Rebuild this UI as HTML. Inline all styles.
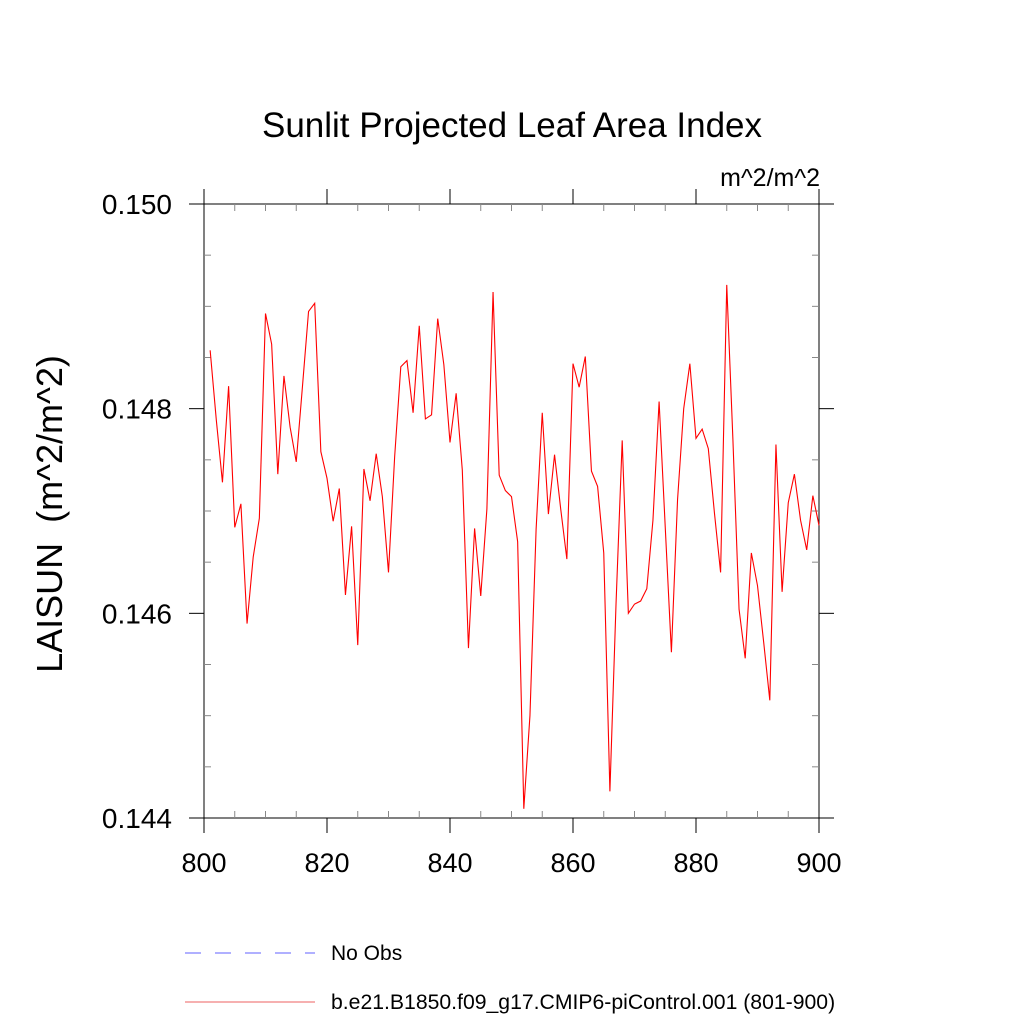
<!DOCTYPE html>
<html><head><meta charset="utf-8"><style>
body{margin:0;background:#fff}
svg{display:block;font-family:"Liberation Sans",Arial,sans-serif}
</style></head><body>
<svg id="chart" width="1024" height="1024" viewBox="0 0 1024 1024" xmlns="http://www.w3.org/2000/svg">
<rect width="1024" height="1024" fill="#fff"/>
<text x="512" y="137" text-anchor="middle" font-size="35">Sunlit Projected Leaf Area Index</text>
<text x="820" y="186" text-anchor="end" font-size="25">m^2/m^2</text>
<text transform="translate(62,514) rotate(-90)" text-anchor="middle" font-size="36" style="white-space:pre" xml:space="preserve">LAISUN  (m^2/m^2)</text>
<g id="axes"></g>
<g id="series"></g>
<g>
<line x1="185" y1="953" x2="315" y2="953" stroke="#8080ff" stroke-width="1.2" stroke-dasharray="16,14"/>
<text x="331" y="960" font-size="21">No Obs</text>
<line x1="185" y1="1002" x2="315" y2="1002" stroke="#f08080" stroke-width="1.2"/>
<text x="331" y="1009" font-size="21.2">b.e21.B1850.f09_g17.CMIP6-piControl.001 (801-900)</text>
</g>
</svg>
<script>
const years = [];
for (let y = 801; y <= 900; y++) years.push(y);
const laisun = [
0.14857,0.14789,0.14728,0.14822,0.14684,0.14707,0.14590,0.14655,0.14693,0.14893,
0.14863,0.14736,0.14832,0.14782,0.14748,0.14821,0.14895,0.14903,0.14758,0.14732,
0.14690,0.14722,0.14618,0.14685,0.14569,0.14741,0.14710,0.14756,0.14714,0.14640,
0.14753,0.14841,0.14847,0.14796,0.14881,0.14790,0.14794,0.14888,0.14843,0.14767,
0.14815,0.14740,0.14566,0.14683,0.14617,0.14702,0.14914,0.14735,0.14720,0.14714,
0.14670,0.14409,0.14500,0.14682,0.14796,0.14697,0.14755,0.14702,0.14653,0.14844,
0.14821,0.14851,0.14739,0.14724,0.14659,0.14426,0.14610,0.14769,0.14600,0.14609,
0.14612,0.14624,0.14691,0.14807,0.14684,0.14562,0.14711,0.14800,0.14844,0.14771,
0.14780,0.14761,0.14698,0.14640,0.14921,0.14770,0.14604,0.14556,0.14659,0.14627,
0.14572,0.14515,0.14765,0.14621,0.14708,0.14736,0.14691,0.14662,0.14715,0.14686
];
const xTicks = [800, 820, 840, 860, 880, 900];
const yTicks = [0.144, 0.146, 0.148, 0.150];
const yTickLabels = ["0.144", "0.146", "0.148", "0.150"];
const xMin = 800, xMax = 900, yMin = 0.144, yMax = 0.150;
const L = 204, R = 819, T = 204, B = 818;
const NS = "http://www.w3.org/2000/svg";
function sx(v){ return L + (v - xMin) / (xMax - xMin) * (R - L); }
function sy(v){ return B - (v - yMin) / (yMax - yMin) * (B - T); }
function mk(tag, attrs, parent){
  const e = document.createElementNS(NS, tag);
  for (const k in attrs) e.setAttribute(k, attrs[k]);
  parent.appendChild(e);
  return e;
}
const axes = document.getElementById('axes');
const frame = mk('rect', {x:L, y:T, width:R-L, height:B-T, fill:'none', stroke:'#000', 'stroke-width':1}, axes);


for (let i = 0; i < xTicks.length; i++) {
  const x = sx(xTicks[i]);
  const t1 = mk('line', {x1:x, y1:B, x2:x, y2:B+15, stroke:'#000'}, axes);
  
  
  const t2 = mk('line', {x1:x, y1:T, x2:x, y2:T-15, stroke:'#000'}, axes);
  
  
  const lb = mk('text', {x:x, y:B+54, 'text-anchor':'middle', 'font-size':27}, axes);
  lb.textContent = String(xTicks[i]);
  
  
}
for (let v = xMin + 5; v < xMax; v += 5) {
  if (v % 20 === 0) continue;
  const x = sx(v);
  const m1 = mk('line', {x1:x, y1:B, x2:x, y2:B-7, stroke:'#888'}, axes);
  
  
  const m2 = mk('line', {x1:x, y1:T, x2:x, y2:T+7, stroke:'#888'}, axes);
  
  
}
for (let i = 0; i < yTicks.length; i++) {
  const y = sy(yTicks[i]);
  const t1 = mk('line', {x1:L-15, y1:y, x2:L, y2:y, stroke:'#000'}, axes);
  
  
  const t2 = mk('line', {x1:R, y1:y, x2:R+15, y2:y, stroke:'#000'}, axes);
  
  
  const lb = mk('text', {x:L-32, y:y+10, 'text-anchor':'end', 'font-size':28}, axes);
  lb.textContent = yTickLabels[i];
  
  
}
for (let k = 1; k < 12; k++) {
  if (k % 4 === 0) continue;
  const y = sy(yMin + k * 0.0005);
  const m1 = mk('line', {x1:L, y1:y, x2:L+7, y2:y, stroke:'#888'}, axes);
  
  
  const m2 = mk('line', {x1:R, y1:y, x2:R-7, y2:y, stroke:'#888'}, axes);
  
  
}
const series = document.getElementById('series');
let d = '';
for (let i = 0; i < years.length; i++) {
  d += (i ? 'L' : 'M') + sx(years[i]).toFixed(2) + ',' + sy(laisun[i]).toFixed(2);
}
const path = mk('path', {d:d, fill:'none', stroke:'#ff0000', 'stroke-width':1.1, 'stroke-linejoin':'miter'}, series);


</script>
</body></html>
